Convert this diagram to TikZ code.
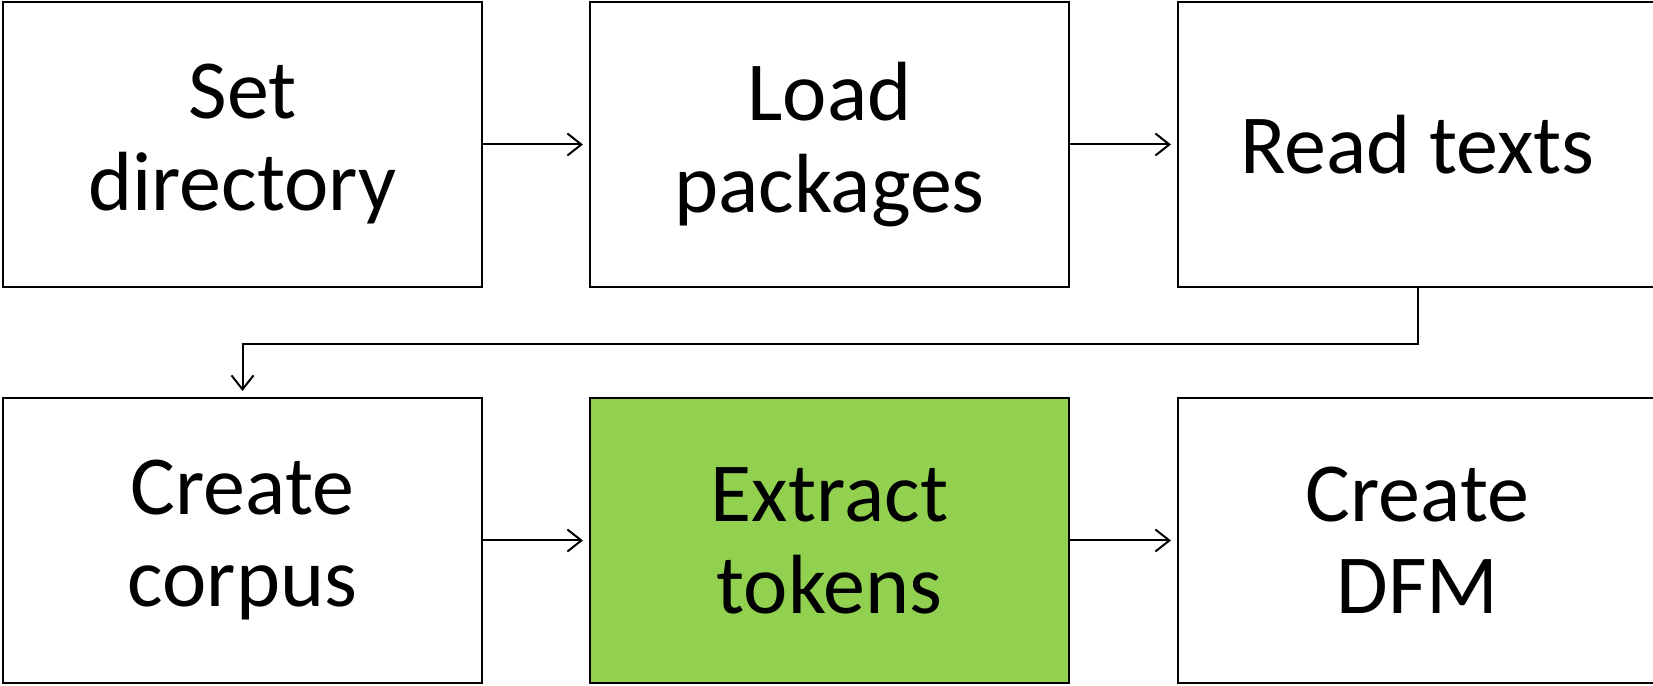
\documentclass[tikz,border=0pt]{standalone}
\usepackage{fontspec}
\setmainfont{Carlito}
\usepackage{xcolor}
\usetikzlibrary{positioning, calc, arrows.meta}
\definecolor{stepgreen}{HTML}{92D050}

\begin{document}
\begin{tikzpicture}[x=0.5pt,y=0.5pt,
    stepbox/.style={draw, line width=1pt, fill=white, minimum width=239.5pt, minimum height=142.5pt,
      inner sep=0pt, align=center, font=\fontsize{42pt}{46pt}\selectfont},
    greenbox/.style={stepbox, fill=stepgreen},
    flow/.style={line width=1pt, -{Straight Barb[length=7pt,width=11pt,line width=1pt]}, shorten >=3pt}]
      \useasboundingbox (0,0) rectangle (1653,685);
      \node[stepbox] (setdir) at (242.5,540.5) {Set\\directory};
      \node[stepbox] (loadpkg) at (829.5,540.5) {Load\\packages};
      \node[stepbox] (readtxt) at (1417.5,540.5) {Read texts};
      \node[stepbox] (corpus) at (242.5,144.5) {Create\\corpus};
      \node[greenbox] (tokens) at (829.5,144.5) {Extract\\tokens};
      \node[stepbox] (dfm) at (1417.5,144.5) {Create\\DFM};
      \draw[flow] (setdir) -- (loadpkg);
      \draw[flow] (loadpkg) -- (readtxt);
      \draw[flow] (readtxt.south) -- ++(0,-55.6) -| (corpus.north);
      \draw[flow] (corpus) -- (tokens);
      \draw[flow] (tokens) -- (dfm);
    \end{tikzpicture}
\end{document}
